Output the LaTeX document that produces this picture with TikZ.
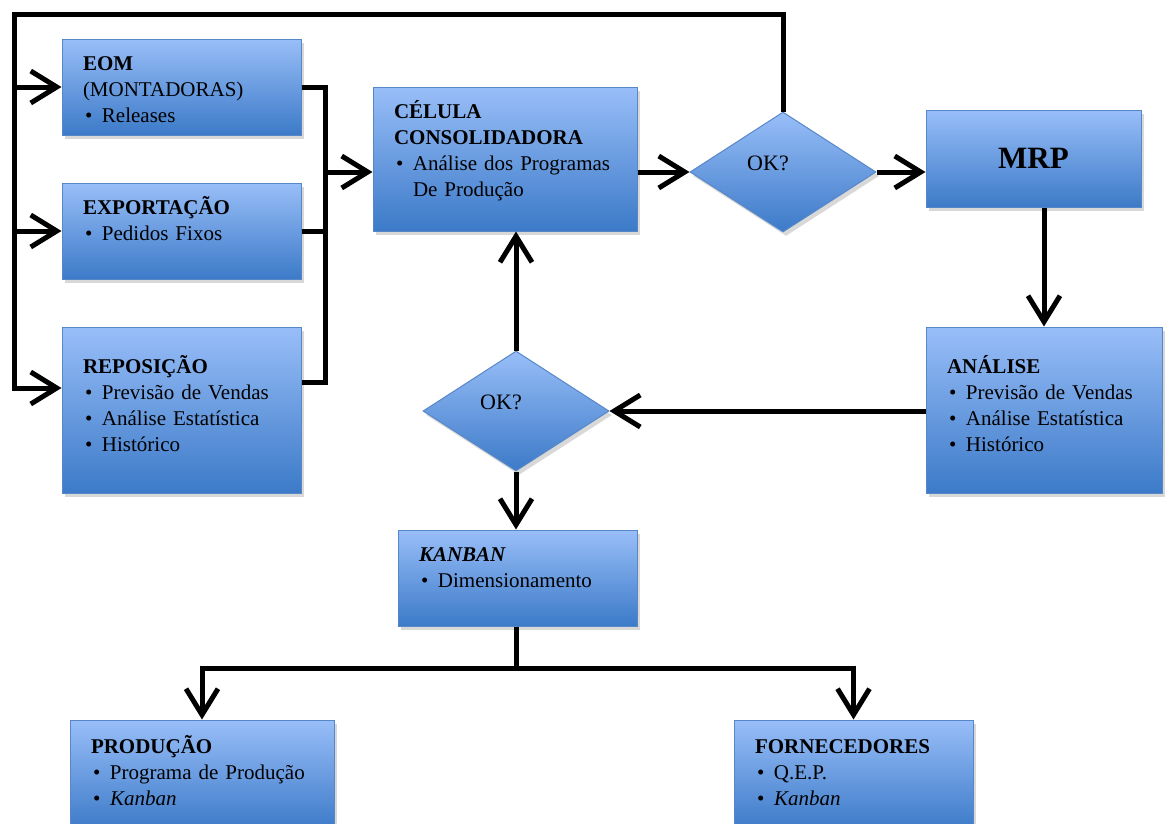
\documentclass[tikz,border=0pt]{standalone}
\usepackage{fontspec}
\setmainfont{Liberation Serif}
\usepackage{tikz}
\usetikzlibrary{arrows.meta,shapes.geometric,shadows}
\definecolor{boxtop}{RGB}{152,190,248}
\definecolor{boxbot}{RGB}{60,122,200}
\definecolor{boxline}{RGB}{88,135,200}
\newcommand{\itm}[1]{\mbox{\hspace*{2pt}\makebox[17pt][l]{\textbullet}#1}}
\tikzstyle{ndbox} = [draw=boxline, line width=1pt, shape=rectangle, top color=boxtop, bottom color=boxbot, drop shadow={shadow xshift=3pt, shadow yshift=-4pt, opacity=0.3}, inner xsep=21pt, inner ysep=0pt, align=left, font=\fontsize{21}{26}\selectfont, text=black]
\tikzstyle{nddec} = [draw=boxline, line width=1pt, shape=diamond, top color=boxtop, bottom color=boxbot, drop shadow={shadow xshift=3pt, shadow yshift=-4pt, opacity=0.3}, inner sep=0pt, minimum width=186pt, minimum height=120pt, text height=15pt, text depth=18pt, font=\fontsize{22}{26}\selectfont, text=black]
\tikzstyle{arline} = [style={line width=5pt, black}]
\tikzstyle{arflow} = [style={-{Straight Barb[length=26pt,width=32pt]}, line width=5pt, black}]

\begin{document}
\begin{tikzpicture}[x=1pt, y=-1pt]
	\path[use as bounding box, fill=white] (0,0) rectangle (1165,823);
	\node[ndbox, text width=197pt, text height=31pt, text depth=65pt] (eom) at (181.5,87) {\textbf{EOM}\\(MONTADORAS)\\\itm{Releases}};
	\node[ndbox, text width=197pt, text height=31pt, text depth=65pt] (exp) at (181.5,231) {\textbf{EXPORTAÇÃO}\\\itm{Pedidos Fixos}};
	\node[ndbox, text width=197pt, text height=46pt, text depth=120pt] (rep) at (181.5,410) {\textbf{REPOSIÇÃO}\\\itm{Previsão de Vendas}\\\itm{Análise Estatística}\\\itm{Histórico}};
	\node[ndbox, text width=222pt, text height=31pt, text depth=113pt] (cel) at (505,159) {\textbf{CÉLULA}\\\textbf{CONSOLIDADORA}\\\itm{Análise dos Programas}\\\hspace*{19pt}De Produção};
	\node[nddec] (ok1) at (783,172) {OK?\hspace*{30pt}};
	\node[ndbox, align=center, inner sep=0pt, minimum width=215pt, minimum height=97pt, font=\fontsize{31}{34}\selectfont\bfseries] (mrp) at (1033.5,158.5) {MRP};
	\node[ndbox, text width=194pt, text height=46pt, text depth=120pt] (ana) at (1044,410) {\textbf{ANÁLISE}\\\itm{Previsão de Vendas}\\\itm{Análise Estatística}\\\itm{Histórico}};
	\node[nddec] (ok2) at (516,411) {OK?\hspace*{30pt}};
	\node[ndbox, text width=197pt, text height=31pt, text depth=65pt] (kan) at (517.5,578) {\textbf{\textit{KANBAN}}\\\itm{Dimensionamento}};
	\node[ndbox, text width=222pt, text height=33pt, text depth=77pt] (prod) at (202,775) {\textbf{PRODUÇÃO}\\\itm{Programa de Produção}\\\itm{\textit{Kanban}}};
	\node[ndbox, text width=197pt, text height=33pt, text depth=77pt] (forn) at (853.5,775) {\textbf{FORNECEDORES}\\\itm{Q.E.P.}\\\itm{\textit{Kanban}}};
	\coordinate (tl) at (14,14);
	\coordinate (bl) at (14,388);
	\coordinate (cj) at (325,172);
	\coordinate (cb) at (325,382);
	\coordinate (kj) at (516,668);
	\draw[arflow] (ok1.north) |- (tl) -- (bl) -- (bl -| rep.west);
	\draw[arflow] (tl |- eom.west) -- (eom.west);
	\draw[arflow] (tl |- exp.west) -- (exp.west);
	\draw[arline] (eom.east) -| (cb) -- (cb -| rep.east);
	\draw[arline] (exp.east) -- (exp.east -| cj);
	\draw[arflow] (cj) -- (cj -| cel.west);
	\draw[arflow] (cel.east |- ok1.west) -- (ok1.west);
	\draw[arflow] (ok1.east) -- (ok1.east -| mrp.west);
	\draw[arflow] (ana.north |- mrp.south) -- (ana.north);
	\draw[arflow] (ana.west |- ok2.east) -- (ok2.east);
	\draw[arflow] (ok2.north) -- (ok2.north |- cel.south);
	\draw[arflow] (ok2.south) -- (ok2.south |- kan.north);
	\draw[arline] (kan.south -| kj) -- (kj);
	\draw[arflow] (kj) -| (prod.north);
	\draw[arflow] (kj) -| (forn.north);
\end{tikzpicture}
\end{document}
